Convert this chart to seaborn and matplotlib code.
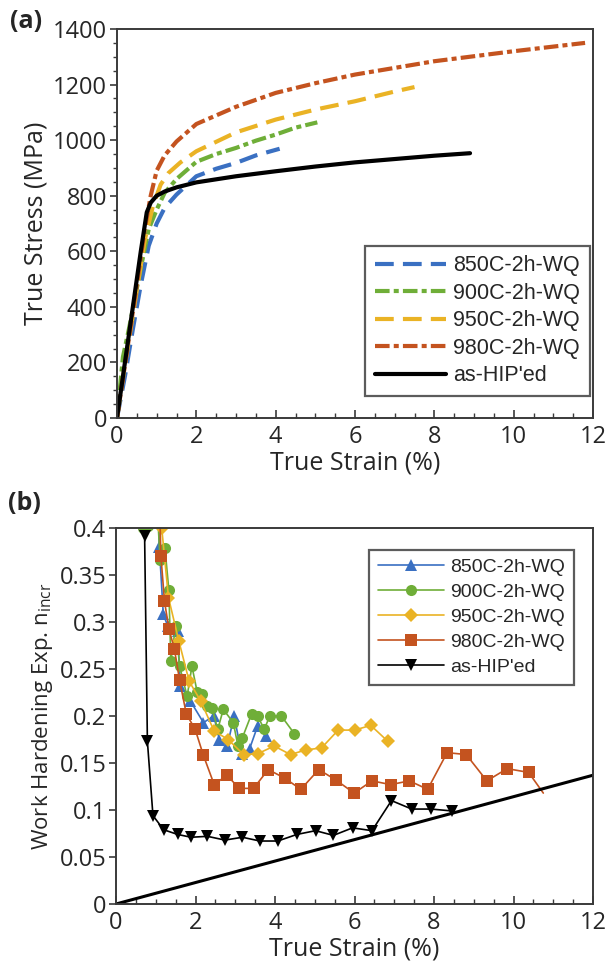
import matplotlib
matplotlib.use("Agg")
import matplotlib.pyplot as plt
import seaborn as sns
import numpy as np
import pandas as pd
from matplotlib.ticker import MultipleLocator

# ---------------- Panel (a): true stress-strain ----------------
a_labels = ["850C-2h-WQ", "900C-2h-WQ", "950C-2h-WQ", "980C-2h-WQ", "as-HIP'ed"]

a850_x = [0, 0.2, 0.4, 0.6, 0.8, 1.0, 1.2, 1.5, 2.0, 2.5, 3.0, 3.5, 4.1]
a850_y = [0, 150, 320, 480, 620, 700, 756, 804, 870, 897, 918, 945, 969]

a900_x = [0, 0.15, 0.3, 0.6, 0.8, 1.0, 1.2, 1.5, 2.0, 2.5, 3.0, 3.5, 4.0, 4.5, 5.05]
a900_y = [0, 220, 320, 540, 680, 750, 810, 860, 922, 950, 972, 998, 1020, 1045, 1064]

a950_x = [0, 0.2, 0.5, 0.7, 0.9, 1.1, 1.3, 1.6, 2.0, 3.0, 4.0, 5.0, 6.0, 7.0, 7.5]
a950_y = [0, 190, 460, 640, 760, 840, 882, 920, 960, 1028, 1074, 1110, 1140, 1175, 1191]

a980_x = [0, 0.2, 0.5, 0.7, 0.85, 1.0, 1.2, 1.5, 2.0, 3.0, 4.0, 5.0, 6.0, 8.0, 10.0, 11.8]
a980_y = [0, 190, 480, 680, 800, 890, 945, 995, 1058, 1120, 1170, 1205, 1236, 1284, 1320, 1350]

ahip_x = [0, 0.2, 0.4, 0.6, 0.75, 0.85, 1.0, 1.2, 1.5, 2.0, 3.0, 4.0, 5.0, 6.0, 7.0, 8.0, 8.9]
ahip_y = [0, 200, 400, 600, 740, 775, 800, 815, 830, 848, 870, 888, 905, 920, 932, 944, 953]

# ---------------- Panel (b): work hardening exponent ----------------
b850_x = [1.04, 1.09, 1.19, 1.30, 1.55, 1.62, 1.87, 2.20, 2.46, 2.60, 2.80, 2.97, 3.16, 3.36, 3.56, 3.78]
b850_y = [0.45, 0.380, 0.308, 0.296, 0.290, 0.232, 0.216, 0.193, 0.200, 0.175, 0.168, 0.200, 0.160,
          0.165, 0.189, 0.179]

b900_x = [0.67, 0.81, 1.00, 1.11, 1.23, 1.33, 1.38, 1.50, 1.60, 1.79, 1.91, 2.04, 2.17, 2.28, 2.41,
          2.56, 2.70, 2.95, 3.07, 3.18, 3.41, 3.56, 3.73, 3.87, 4.16, 4.49]
b900_y = [0.400, 0.402, 0.45, 0.366, 0.379, 0.334, 0.258, 0.296, 0.253, 0.221, 0.253, 0.226, 0.223,
          0.211, 0.209, 0.186, 0.207, 0.193, 0.168, 0.177, 0.202, 0.200, 0.186, 0.200, 0.200, 0.181]

b950_x = [1.12, 1.15, 1.32, 1.58, 1.84, 2.13, 2.47, 2.82, 3.21, 3.57, 3.98, 4.39, 4.78, 5.17, 5.59,
          6.00, 6.41, 6.84]
b950_y = [0.45, 0.400, 0.326, 0.280, 0.237, 0.216, 0.184, 0.175, 0.159, 0.160, 0.168, 0.159, 0.164,
          0.166, 0.185, 0.185, 0.190, 0.173]

b980_x = [1.08, 1.13, 1.22, 1.33, 1.47, 1.60, 1.77, 1.99, 2.20, 2.47, 2.79, 3.10, 3.46, 3.83, 4.24,
          4.65, 5.10, 5.53, 5.99, 6.44, 6.91, 7.38, 7.84, 8.33, 8.81, 9.33, 9.84, 10.38, 10.75]
b980_y = [0.45, 0.370, 0.322, 0.293, 0.271, 0.238, 0.202, 0.186, 0.158, 0.127, 0.137, 0.123, 0.123,
          0.143, 0.134, 0.122, 0.143, 0.132, 0.118, 0.131, 0.127, 0.131, 0.122, 0.161, 0.159,
          0.131, 0.144, 0.140, 0.118]

bhip_x = [0.72, 0.79, 0.93, 1.20, 1.55, 1.89, 2.30, 2.74, 3.18, 3.62, 4.07, 4.55, 5.02, 5.47,
          5.95, 6.44, 6.93, 7.44, 7.93, 8.45]
bhip_y = [0.391, 0.173, 0.094, 0.079, 0.074, 0.071, 0.072, 0.068, 0.071, 0.067, 0.067, 0.074,
          0.078, 0.073, 0.081, 0.078, 0.110, 0.101, 0.101, 0.099]

ref_x = [0, 12]
ref_y = [0, 0.137]

# ---------------- styling ----------------
sns.set_theme(style="white")
plt.rcParams["font.family"] = ["Open Sans", "DejaVu Sans"]
plt.rcParams["mathtext.fontset"] = "custom"
plt.rcParams["mathtext.rm"] = "Open Sans"

c_blue = "#3a70c2"
c_green = "#6fae38"
c_gold = "#eab325"
c_red = "#c4531f"
c_black = "#000000"

TICK_FS = 17
LAB_FS = 18

fig = plt.figure(figsize=(6.07, 9.71), dpi=100)
ax1 = fig.add_axes([117 / 607, 1 - 418 / 971, (593 - 117) / 607, (418 - 29) / 971])
ax2 = fig.add_axes([116 / 607, 1 - 904 / 971, (593 - 116) / 607, (904 - 528) / 971])

# Panel (a)
a_series = [
    (a850_x, a850_y, c_blue, (4.5, 2.2)),
    (a900_x, a900_y, c_green, (3.5, 1.0, 1.2, 1.0)),
    (a950_x, a950_y, c_gold, (4.5, 2.2)),
    (a980_x, a980_y, c_red, (3.5, 1.0, 1.2, 1.0)),
    (ahip_x, ahip_y, c_black, None),
]
for (xs, ys, col, dash), lab in zip(a_series, a_labels):
    df = pd.DataFrame({"x": xs, "y": ys})
    sns.lineplot(data=df, x="x", y="y", ax=ax1, color=col, label=lab, sort=False,
                 estimator=None, lw=3.0)
    if dash is not None:
        ax1.lines[-1].set_dashes(dash)

ax1.set_xlim(0, 12)
ax1.set_ylim(0, 1400)
ax1.xaxis.set_major_locator(MultipleLocator(2))
ax1.xaxis.set_minor_locator(MultipleLocator(0.5))
ax1.yaxis.set_major_locator(MultipleLocator(200))
ax1.yaxis.set_minor_locator(MultipleLocator(50))
ax1.set_xlabel("True Strain (%)", fontsize=LAB_FS, labelpad=1)
ax1.set_ylabel("True Stress (MPa)", fontsize=LAB_FS, labelpad=3)

# Panel (b)
b_series = [
    (b850_x, b850_y, c_blue, "^", a_labels[0]),
    (b900_x, b900_y, c_green, "o", a_labels[1]),
    (b950_x, b950_y, c_gold, "D", a_labels[2]),
    (b980_x, b980_y, c_red, "s", a_labels[3]),
    (bhip_x, bhip_y, c_black, "v", a_labels[4]),
]
for xs, ys, col, mk, lab in b_series:
    df = pd.DataFrame({"x": xs, "y": ys})
    ms = 7 if mk == "D" else 8
    n = len(xs)
    mev = list(range(n - 1)) if lab == "980C-2h-WQ" else None
    sns.lineplot(data=df, x="x", y="y", ax=ax2, color=col, label=lab, sort=False,
                 estimator=None, lw=1.2, marker=mk, markersize=ms, markeredgewidth=0,
                 markevery=mev)

sns.lineplot(x=ref_x, y=ref_y, ax=ax2, color="black", lw=2.2, legend=False)

ax2.set_xlim(0, 12)
ax2.set_ylim(0, 0.4)
ax2.xaxis.set_major_locator(MultipleLocator(2))
ax2.xaxis.set_minor_locator(MultipleLocator(0.5))
ax2.set_yticks([0, 0.05, 0.1, 0.15, 0.2, 0.25, 0.3, 0.35, 0.4])
ax2.set_yticklabels(["0", "0.05", "0.1", "0.15", "0.2", "0.25", "0.3", "0.35", "0.4"])
ax2.set_xlabel("True Strain (%)", fontsize=LAB_FS, labelpad=1)
ax2.set_ylabel("Work Hardening Exp. n$_{\\mathregular{incr}}$", fontsize=16, labelpad=3)

for ax in (ax1, ax2):
    for sp in ax.spines.values():
        sp.set_visible(True)
        sp.set_color("#3a3a3a")
        sp.set_linewidth(1.4)
    ax.tick_params(axis="x", which="both", direction="in", bottom=True, top=False,
                   labelsize=TICK_FS, pad=5, color="#3a3a3a")
    ax.tick_params(axis="x", which="major", length=6, width=1.2)
    ax.tick_params(axis="x", which="minor", length=3.5, width=1.0)
    ax.tick_params(axis="y", which="both", direction="out", left=True, right=False,
                   labelsize=TICK_FS, pad=2, color="#3a3a3a")
    ax.tick_params(axis="y", which="major", length=5, width=1.2)
    ax.tick_params(axis="y", which="minor", length=3, width=1.0)

leg_font = {"family": ["Liberation Sans", "DejaVu Sans"], "size": 15.5}
leg1 = ax1.legend(loc="lower left", bbox_to_anchor=(0.521, 0.057), borderaxespad=0,
                  prop=leg_font, frameon=True, fancybox=False, handlelength=3.3,
                  handletextpad=0.35, labelspacing=0.3, borderpad=0.45)
leg1.get_frame().set_edgecolor("#333333")
leg1.get_frame().set_linewidth(1.6)

leg2 = ax2.legend(loc="upper left", bbox_to_anchor=(0.531, 0.942), borderaxespad=0,
                  prop={"family": ["Liberation Sans", "DejaVu Sans"], "size": 14},
                  frameon=True, fancybox=False, handlelength=3.4,
                  handletextpad=0.3, labelspacing=0.38, borderpad=0.45, numpoints=1)
leg2.get_frame().set_edgecolor("#333333")
leg2.get_frame().set_linewidth(1.6)

fig.text(10 / 607, 1 - 22 / 971, "(a)", fontsize=18, fontweight="bold", va="center", ha="left")
fig.text(8 / 607, 1 - 503 / 971, "(b)", fontsize=18, fontweight="bold", va="center", ha="left")

fig.savefig("out.png", dpi=100, facecolor="white")
